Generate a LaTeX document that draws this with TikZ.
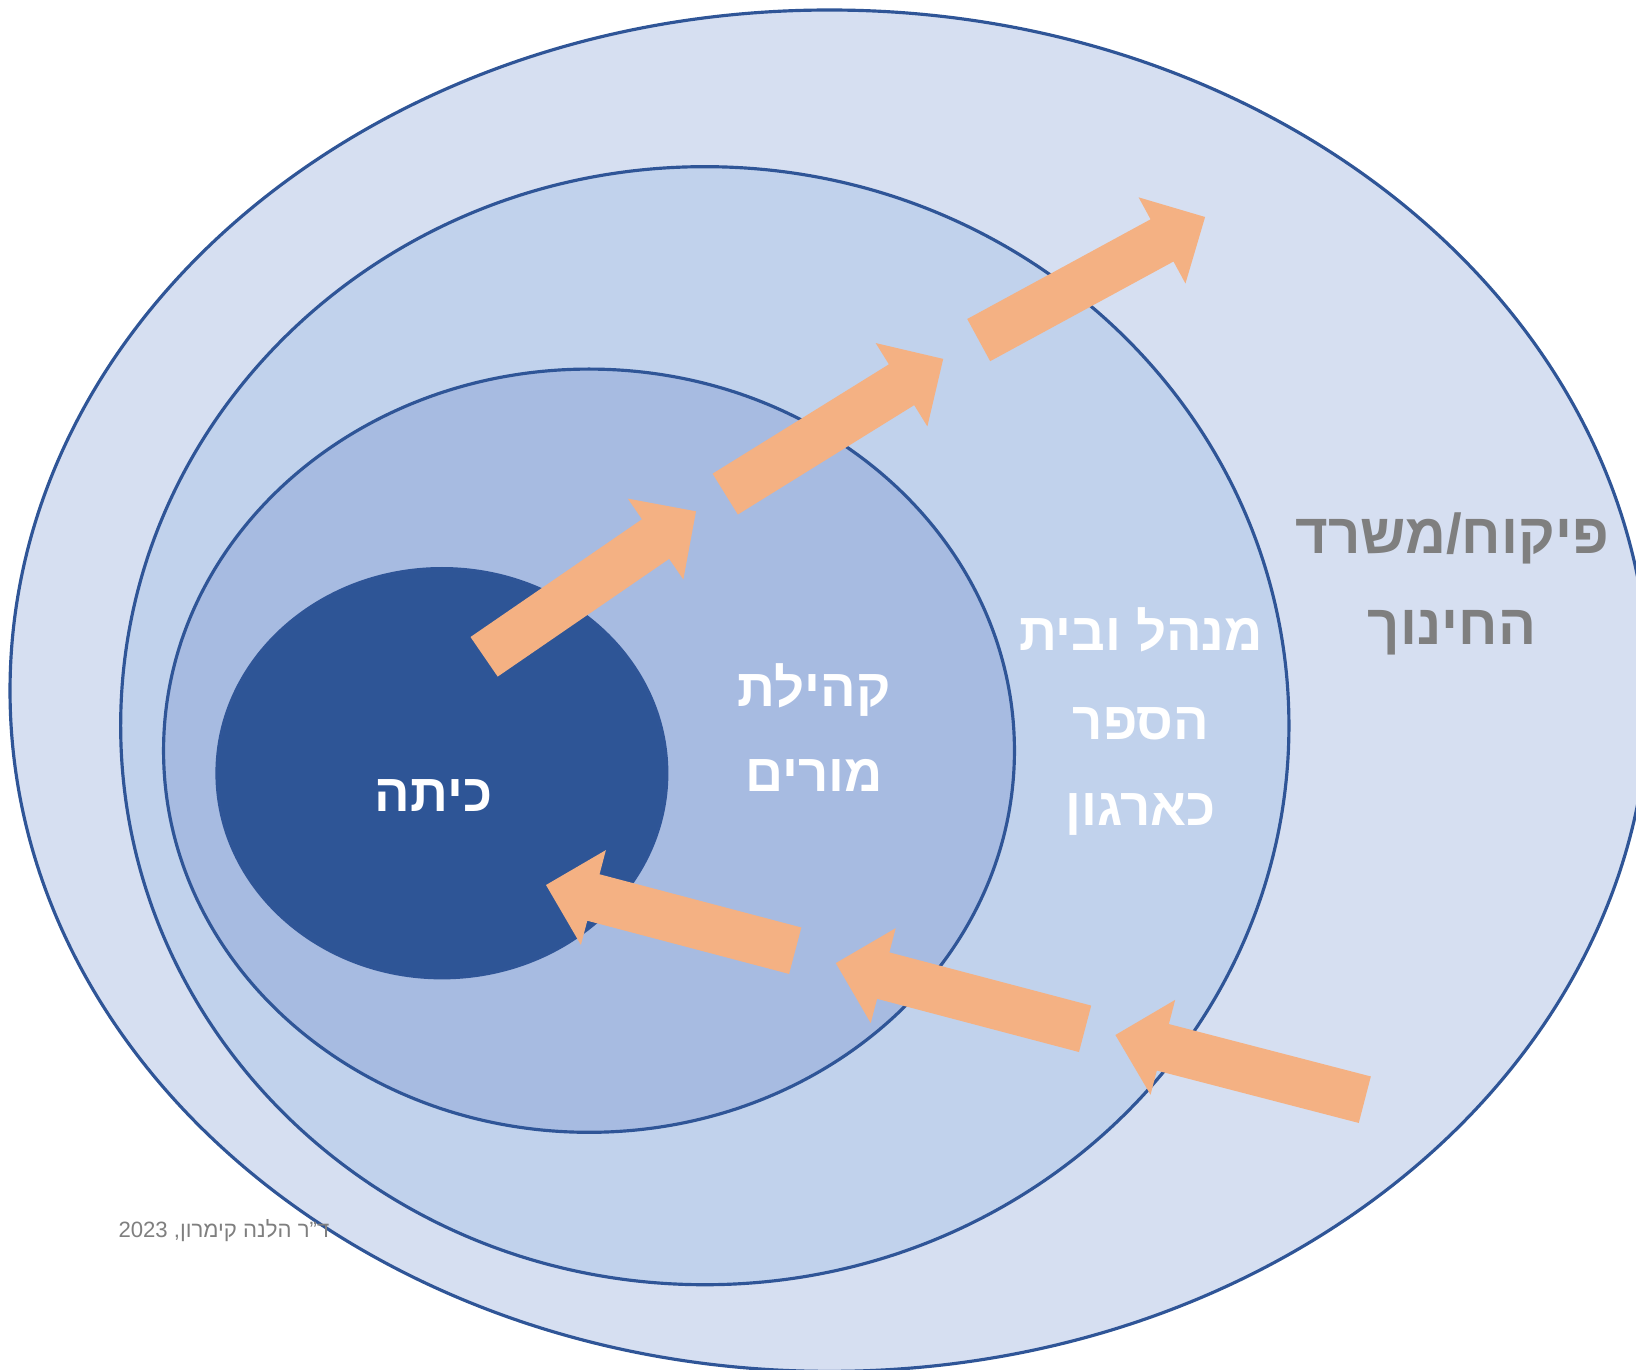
\documentclass[tikz,border=0pt]{standalone}
\usepackage{fontspec}
\setmainfont{Liberation Sans}
\newfontfamily\hebfont[Script=Hebrew]{Liberation Sans}
\TeXXeTstate=1
\usetikzlibrary{shapes.geometric,calc}
\definecolor{ringA}{HTML}{D6DFF1}
\definecolor{ringB}{HTML}{C1D2EC}
\definecolor{ringC}{HTML}{A7BBE1}
\definecolor{ringD}{HTML}{2E5596}
\definecolor{edgeblue}{HTML}{2F5597}
\definecolor{arroworange}{HTML}{F4B183}
\definecolor{txtgray}{HTML}{7F7F7F}
\newcommand{\blockarrow}[2]{%
  \coordinate (#1h) at ($(#2)!0.49cm!(#1)$);
  \fill[arrowfill] ($(#1)!0.24cm!90:(#2)$) -- ($(#1h)!0.24cm!90:(#2)$) -- ($(#1h)!0.49cm!90:(#2)$) -- (#2) -- ($(#1h)!0.49cm!-90:(#2)$) -- ($(#1h)!0.24cm!-90:(#2)$) -- ($(#1)!0.24cm!-90:(#2)$) -- cycle;
}
\begin{document}
\begin{tikzpicture}[x=0.01cm,y=-0.01cm,
  ring/.style={ellipse, draw=edgeblue, line width=0.9pt, inner sep=0pt, outer sep=0pt},
  arrowfill/.style={fill=arroworange},
  whitelbl/.style={text=white, font=\hebfont\bfseries\fontsize{15}{18}\selectfont, inner sep=0pt, anchor=base},
  graylbl/.style={text=txtgray, font=\hebfont\bfseries\fontsize{16}{20}\selectfont, inner sep=0pt, anchor=base},
  footlbl/.style={text=txtgray, font=\hebfont\fontsize{6.3}{8}\selectfont, inner sep=0pt, anchor=base east}]
\useasboundingbox (0,0) rectangle (1636,1370);
\fill[white] (0,0) rectangle (1636,1370);
\clip (0,0) rectangle (1636,1370);
% rings
\node[ring, fill=ringA, minimum width=16.38cm, minimum height=13.606cm] (outer) at (829.5,690.7) {};
\node[ring, fill=ringB, minimum width=11.676cm, minimum height=11.174cm] (middle) at (704.8,725.7) {};
\node[ring, fill=ringC, minimum width=8.504cm, minimum height=7.628cm] (inner) at (589,750.7) {};
\node[ring, fill=ringD, minimum width=4.496cm, minimum height=4.09cm] (core) at (441.9,773.2) {};
% arrows
\coordinate (t1) at (484.1,656.8);  \coordinate (p1) at (696.0,511.3);
\coordinate (t2) at (725.2,494.1);  \coordinate (p2) at (943.2,358.9);
\coordinate (t3) at (978.7,340.1);  \coordinate (p3) at (1205.1,217.0);
\coordinate (t4) at (795.2,950.7);  \coordinate (p4) at (546,885);
\coordinate (t5) at (1085.1,1028.8); \coordinate (p5) at (835.8,963.1);
\coordinate (t6) at (1364.8,1099.7); \coordinate (p6) at (1115.4,1035.0);
\blockarrow{t1}{p1}
\blockarrow{t2}{p2}
\blockarrow{t3}{p3}
\blockarrow{t4}{p4}
\blockarrow{t5}{p5}
\blockarrow{t6}{p6}
% labels
\node[whitelbl] (kita) at (433.5,811) {\beginR כיתה\endR};
\node[whitelbl] (kehila1) at (814,706) {\beginR קהילת\endR};
\node[whitelbl] (kehila2) at (814,791) {\beginR מורים\endR};
\node[whitelbl] (school1) at (1141,650) {\beginR מנהל ובית\endR};
\node[whitelbl] (school2) at (1141,739) {\beginR הספר\endR};
\node[whitelbl] (school3) at (1141,825) {\beginR כארגון\endR};
\node[graylbl] (office1) at (1452,554) {\beginR פיקוח/משרד\endR};
\node[graylbl] (office2) at (1452,644) {\beginR החינוך\endR};
\node[footlbl] (credit) at (330,1237) {\beginR ד”ר הלנה קימרון\kern0pt, \beginL 2023\endL\endR};
\end{tikzpicture}
\end{document}
